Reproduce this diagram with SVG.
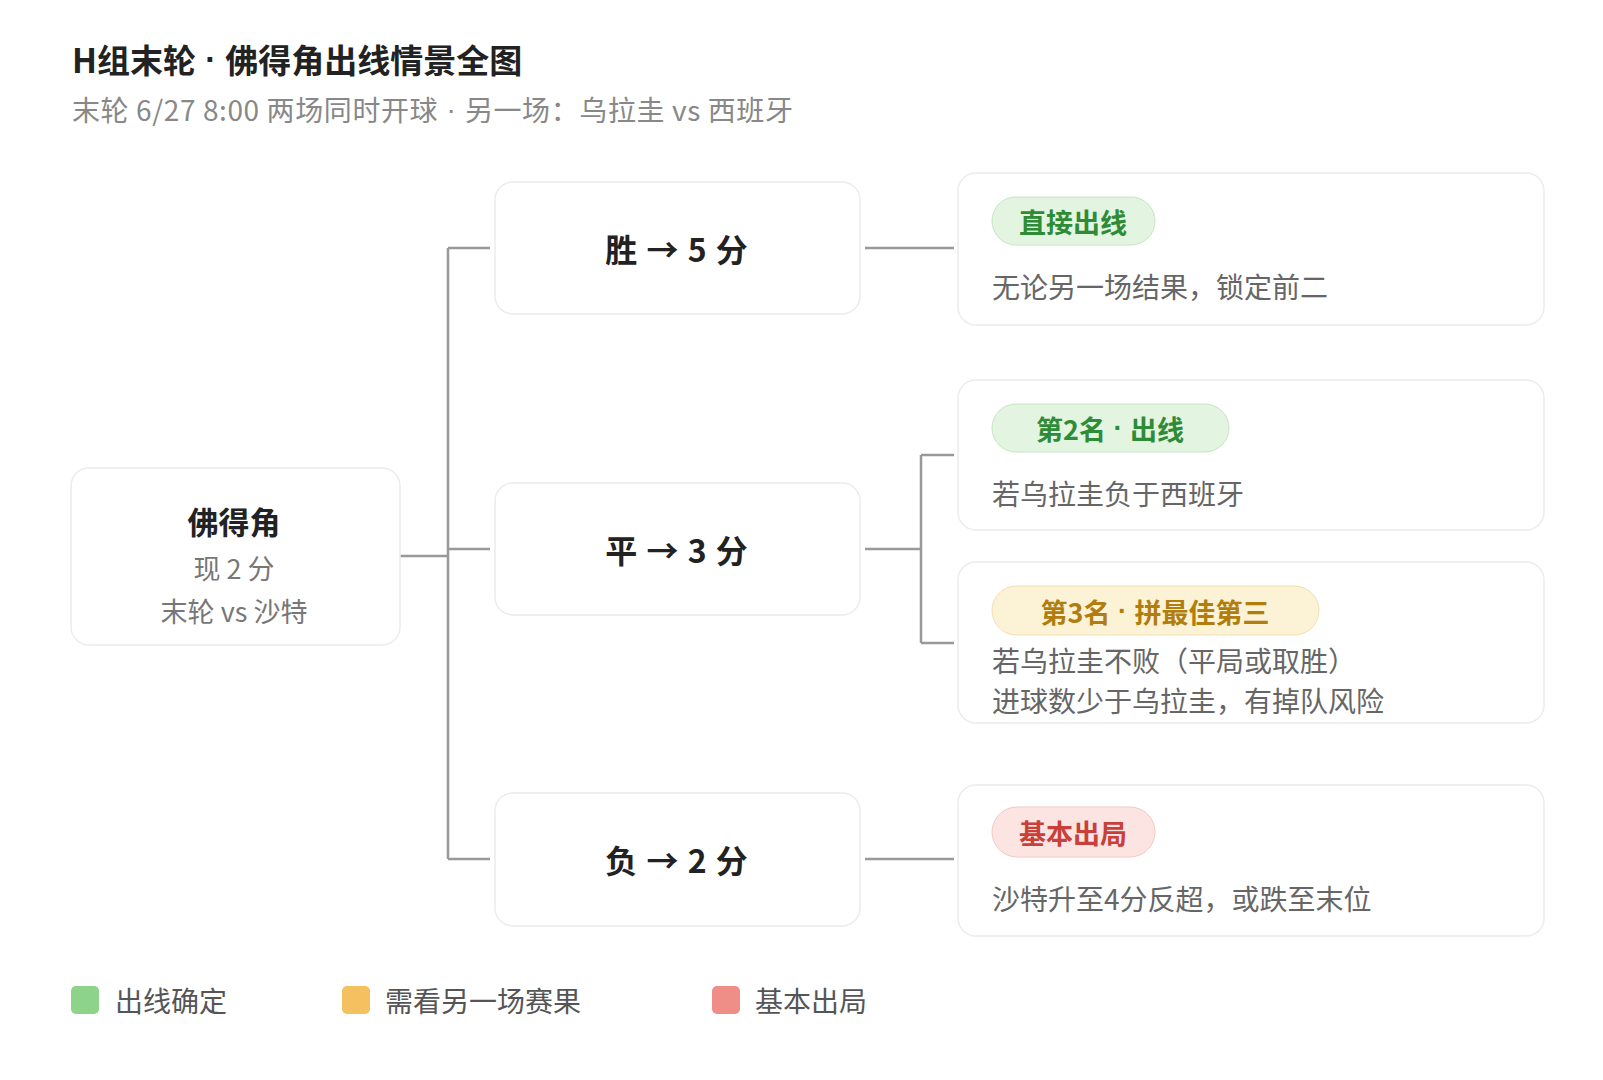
<svg xmlns="http://www.w3.org/2000/svg" width="1603" height="1080" viewBox="0 0 1603 1080">
<style>
text{font-family:"Noto Sans CJK SC","Noto Sans",sans-serif;dominant-baseline:central}
.d{font-family:"Liberation Sans",sans-serif}
.card{fill:#fff;stroke:#ececec;stroke-width:1.5}
.mid{font-size:32px;font-weight:700;fill:#222;text-anchor:middle;letter-spacing:1px}
.desc{font-size:28px;fill:#666}
.badge{font-size:27px;font-weight:700;text-anchor:middle}
.conn{fill:none;stroke:#999;stroke-width:2.5}
.leg{font-size:28px;fill:#555}
</style>
<rect width="1603" height="1080" fill="#fff"/>
<g transform="translate(-3,-4)">
<text x="75" y="63" font-size="33" font-weight="700" fill="#222">H组末轮<tspan class="d"> · </tspan>佛得角出线情景全图</text>
<text x="75" y="113" font-size="28" fill="#888" letter-spacing="0.6">末轮 6/27 8:00 两场同时开球<tspan class="d"> · </tspan>另一场：乌拉圭 vs 西班牙</text>
<g id="connectors">
<path class="conn" d="M403 560H451M451 252V863M451 252H493M451 553H493M451 863H493"/>
<path class="conn" d="M868 252H957M868 553H924M924 459V647M924 459H957M924 647H957M868 863H957"/>
</g>
<g id="n-cv"><rect class="card" x="74" y="472" width="329" height="177" rx="18"/>
<text x="237" y="524" font-size="31" font-weight="700" fill="#222" text-anchor="middle">佛得角</text>
<text x="237" y="571" font-size="27" fill="#777" text-anchor="middle">现 2 分</text>
<text x="237" y="614" font-size="27" fill="#777" text-anchor="middle">末轮 vs 沙特</text></g>
<g id="n-win"><rect class="card" x="498" y="186" width="365" height="132" rx="18"/><text class="mid" x="680" y="252">胜 → 5 分</text></g>
<g id="n-draw"><rect class="card" x="498" y="487" width="365" height="132" rx="18"/><text class="mid" x="680" y="553">平 → 3 分</text></g>
<g id="n-loss"><rect class="card" x="498" y="797" width="365" height="133" rx="18"/><text class="mid" x="680" y="863">负 → 2 分</text></g>
<g id="r-win"><rect class="card" x="961" y="177" width="586" height="152" rx="18"/>
<rect x="995" y="201" width="163" height="48" rx="24" fill="#e3f4e1" stroke="#c6e6c2"/>
<text class="badge" x="1076" y="225" fill="#2e8b36">直接出线</text>
<text class="desc" x="995" y="290">无论另一场结果，锁定前二</text></g>
<g id="r-2nd"><rect class="card" x="961" y="384" width="586" height="150" rx="18"/>
<rect x="995" y="408" width="237" height="48" rx="24" fill="#e3f4e1" stroke="#c6e6c2"/>
<text class="badge" x="1113" y="432" fill="#2e8b36">第2名<tspan class="d"> · </tspan>出线</text>
<text class="desc" x="995" y="497">若乌拉圭负于西班牙</text></g>
<g id="r-3rd"><rect class="card" x="961" y="566" width="586" height="161" rx="18"/>
<rect x="995" y="590" width="327" height="49" rx="24.5" fill="#fcf2d6" stroke="#f0e0b0"/>
<text class="badge" x="1158" y="615" fill="#b07d0e">第3名<tspan class="d"> · </tspan>拼最佳第三</text>
<text class="desc" x="995" y="664">若乌拉圭不败（平局或取胜）</text>
<text class="desc" x="995" y="704">进球数少于乌拉圭，有掉队风险</text></g>
<g id="r-loss"><rect class="card" x="961" y="789" width="586" height="151" rx="18"/>
<rect x="995" y="811" width="163" height="50" rx="25" fill="#fbe4e2" stroke="#f2c9c5"/>
<text class="badge" x="1076" y="836" fill="#c8403a">基本出局</text>
<text class="desc" x="995" y="902">沙特升至4分反超，或跌至末位</text></g>
<g id="legend">
<rect x="74" y="990" width="28" height="28" rx="5" fill="#8dd48a"/><text class="leg" x="118" y="1004">出线确定</text>
<rect x="345" y="990" width="28" height="28" rx="5" fill="#f5c060"/><text class="leg" x="388" y="1004">需看另一场赛果</text>
<rect x="715" y="990" width="28" height="28" rx="5" fill="#ef8e86"/><text class="leg" x="758" y="1004">基本出局</text>
</g>
</g>
</svg>
